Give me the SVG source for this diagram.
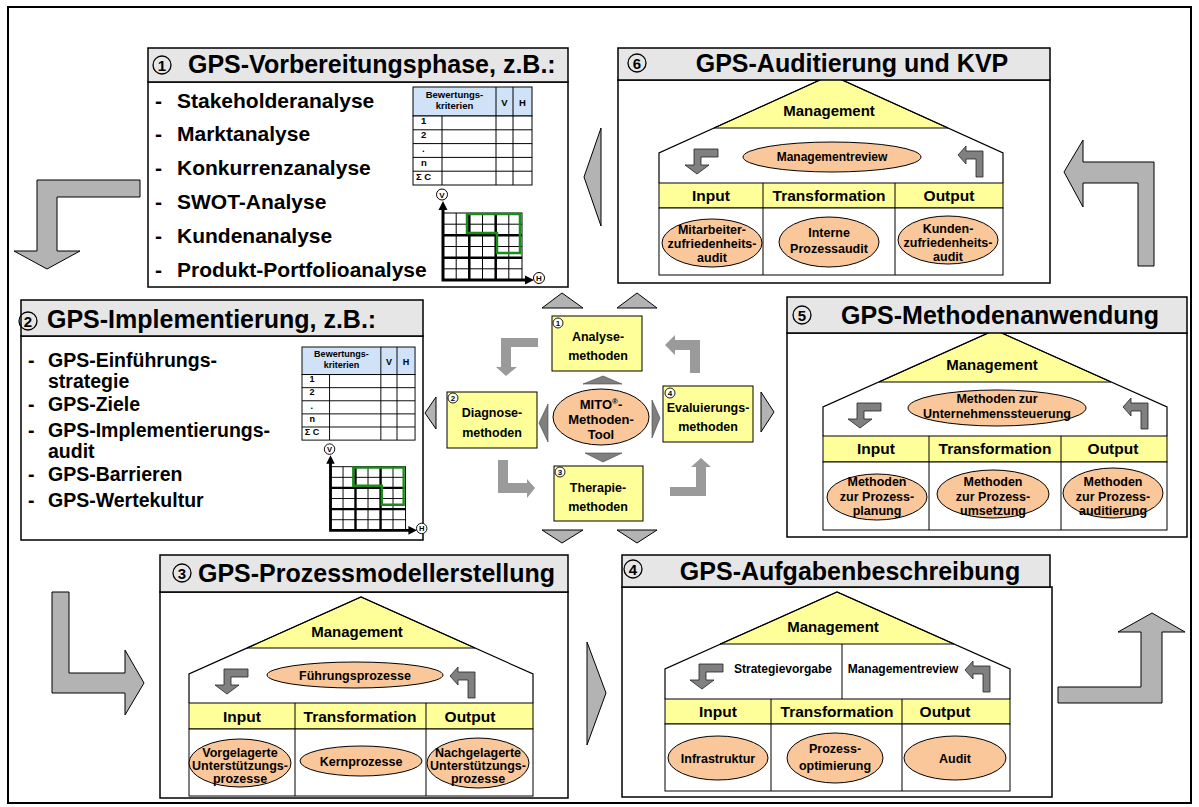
<svg xmlns="http://www.w3.org/2000/svg" width="1199" height="807" viewBox="0 0 1199 807">
<style>
.t{font-family:"Liberation Sans",Arial,sans-serif;font-weight:bold;fill:#000}
.ttl{font-size:25px}
.lst{font-size:21px}
.lst2{font-size:19.5px}
.hd{font-size:15.5px;text-anchor:middle}
.mg{font-size:15px;text-anchor:middle}
.e12{font-size:12px;text-anchor:middle}
.e13{font-size:12.5px;text-anchor:middle}
.c13{font-size:12.5px;text-anchor:middle}
.tb{font-size:9.5px}
.nd{font-size:15px;text-anchor:middle}
.ns{font-size:8px;text-anchor:middle}
.hdr{fill:#e6e6e6;stroke:#000;stroke-width:1.5}
.bdy{fill:#fff;stroke:#000;stroke-width:1.5}
.yel{fill:#ffff99;stroke:#000;stroke-width:1}
.ell{fill:#f9c79a;stroke:#000;stroke-width:1}
.wall{fill:none;stroke:#000;stroke-width:1.2}
.cell{fill:#fff;stroke:#000;stroke-width:1}
.ln{fill:none;stroke:#000;stroke-width:1}
.big{fill:#b3b3b3;stroke:#000;stroke-width:1}
.sma{fill:#808080;stroke:#222;stroke-width:0.8}
.mid{fill:#9a9a9a}
.dk{fill:#7f7f7f;stroke:#444;stroke-width:0.6}
.num{fill:none;stroke:#000;stroke-width:1.3}
.nums{fill:#fff;stroke:#000;stroke-width:0.9}
</style>
<defs>
<path id="aDL" d="M-3,-25 L21,-25 L21,-17 L4,-17 L4,-9 L12,-9 L0,0 L-12,-9 L-3,-9 Z"/>
<path id="aUL" d="M0,0 L8,-9 L8,-4 L25,-4 L25,22 L18,22 L18,4 L8,4 L8,9 Z"/>
<g id="crit">
<rect x="0" y="0" width="119" height="29" fill="#cfe2f7" stroke="#000" stroke-width="1"/>
<rect x="0" y="29" width="119" height="69" fill="#fff" stroke="#000" stroke-width="1"/>
<path class="ln" d="M83,0V98M100,0V98M29,29V98M0,42.8H119M0,56.6H119M0,70.4H119M0,84.2H119"/>
<text class="t tb" x="41.5" text-anchor="middle"><tspan x="41.5" y="10.5">Bewertungs-</tspan><tspan x="41.5" y="22">kriterien</tspan></text>
<text class="t tb" x="91.5" y="19" text-anchor="middle">V</text>
<text class="t tb" x="109.5" y="19" text-anchor="middle">H</text>
<text class="t tb" x="8" y="37">1</text>
<text class="t tb" x="8" y="51">2</text>
<text class="t tb" x="9" y="65">.</text>
<text class="t tb" x="8" y="79">n</text>
<text class="t tb" x="3" y="93">Σ C</text>
<rect x="30" y="126" width="79" height="67" fill="#fff" stroke="#000" stroke-width="1"/>
<path class="ln" d="M43.2,126V193M69.5,126V193M95.8,126V193M30,137.2H109M30,159.5H109M30,181.8H109"/>
<path fill="none" stroke="#000" stroke-width="2.5" d="M56.3,126V193M82.7,126V193M30,148.3H109M30,170.7H109"/>
<path d="M54,127H107V166H84V146H54Z" fill="none" stroke="#1a8c1a" stroke-width="2.5"/>
<path fill="none" stroke="#000" stroke-width="3" d="M30,194.5V121M28.5,193H114"/>
<path d="M30,114L25.5,123H34.5Z M121,193L112,188.5V197.5Z" fill="#000"/>
<circle cx="29" cy="107.5" r="5.5" fill="#fff" stroke="#000" stroke-width="1"/>
<text class="t" x="29" y="110.5" font-size="8" text-anchor="middle">V</text>
<circle cx="126" cy="191" r="5.5" fill="#fff" stroke="#000" stroke-width="1"/>
<text class="t" x="126" y="194" font-size="8" text-anchor="middle">H</text>
</g>
</defs>

<rect x="8" y="7" width="1183" height="796" fill="#fff" stroke="#000" stroke-width="2"/>

<g id="connectors">
<path class="big" d="M140,180 L37,180 L37,251 L14,251 L47,269 L80,251 L57,251 L57,197 L140,197 Z"/>
<path class="big" d="M1064,172 L1083,140 L1083,162 L1154,162 L1154,266 L1138,266 L1138,183 L1083,183 L1083,207 Z"/>
<path class="big" d="M1152,613 L1185,632 L1162,632 L1162,703 L1058,703 L1058,687 L1141,687 L1141,632 L1118,632 Z"/>
<path class="big" d="M52,592 L69,592 L69,673 L125,673 L125,650 L144,683 L125,715 L125,693 L52,693 Z"/>
<polygon class="big" points="601,128 584,177 601,226"/>
<polygon class="big" points="587,642 606,693 587,745"/>
<polygon class="big" points="542,308 562,293 583,308"/>
<polygon class="big" points="617,308 637,293 657,308"/>
<polygon class="big" points="542,530 562,543 583,530"/>
<polygon class="big" points="617,530 637,543 657,530"/>
<polygon class="big" points="425,413 436,397 436,429"/>
<polygon class="big" points="761,392 774,412 761,432"/>
<path class="mid" d="M538,338 L501,338 L501,367 L496,367 L506,376 L517,367 L511,367 L511,347 L538,347 Z"/>
<path class="mid" d="M665,345 L675,335 L675,340 L700,340 L700,373 L690,373 L690,350 L675,350 L675,355 Z"/>
<path class="mid" d="M498,460 L508,460 L508,483 L527,483 L527,479 L535,488 L527,498 L527,493 L498,493 Z"/>
<path class="mid" d="M670,487 L696,487 L696,467 L691,467 L701,458 L711,467 L706,467 L706,496 L670,496 Z"/>
<polygon class="dk" points="583,384 603,376 622,384"/>
<polygon class="dk" points="585,453 603,462 622,453"/>
<polygon class="dk" points="539,423 548,404 548,442"/>
<polygon class="dk" points="652,400 660,418 652,438"/>
</g>

<g id="p1">
<rect class="bdy" x="148" y="82" width="420" height="205"/>
<rect class="hdr" x="148" y="48" width="420" height="34"/>
<circle class="num" cx="162" cy="65" r="9"/>
<text class="t nd" x="162" y="70.5">1</text>
<text class="t ttl" x="188" y="73">GPS-Vorbereitungsphase, z.B.:</text>
<text class="t lst" x="155" y="108">-</text><text class="t lst" x="177" y="108">Stakeholderanalyse</text>
<text class="t lst" x="155" y="141">-</text><text class="t lst" x="177" y="141">Marktanalyse</text>
<text class="t lst" x="155" y="175">-</text><text class="t lst" x="177" y="175">Konkurrenzanalyse</text>
<text class="t lst" x="155" y="209">-</text><text class="t lst" x="177" y="209">SWOT-Analyse</text>
<text class="t lst" x="155" y="243">-</text><text class="t lst" x="177" y="243">Kundenanalyse</text>
<text class="t lst" x="155" y="277">-</text><text class="t lst" x="177" y="277">Produkt-Portfolioanalyse</text>
<use href="#crit" transform="translate(413,87)"/>
</g>

<g id="p2">
<rect class="bdy" x="21" y="336" width="402" height="204"/>
<rect class="hdr" x="21" y="300" width="402" height="36"/>
<circle class="num" cx="28" cy="321" r="9"/>
<text class="t nd" x="28" y="326.5">2</text>
<text class="t ttl" x="47" y="328">GPS-Implementierung, z.B.:</text>
<text class="t lst2" x="28" y="367">-</text><text class="t lst2"><tspan x="48" y="367">GPS-Einführungs-</tspan><tspan x="48" y="388">strategie</tspan></text>
<text class="t lst2" x="28" y="411">-</text><text class="t lst2" x="48" y="411">GPS-Ziele</text>
<text class="t lst2" x="28" y="437">-</text><text class="t lst2"><tspan x="48" y="437">GPS-Implementierungs-</tspan><tspan x="48" y="458">audit</tspan></text>
<text class="t lst2" x="28" y="481">-</text><text class="t lst2" x="48" y="481">GPS-Barrieren</text>
<text class="t lst2" x="28" y="507">-</text><text class="t lst2" x="48" y="507">GPS-Wertekultur</text>
<use href="#crit" transform="translate(302,347) scale(0.95)"/>
</g>

<g id="p6">
<rect class="bdy" x="618" y="80" width="432" height="203"/>
<polygon class="yel" points="831,75 714,128 948,128"/>
<polyline class="wall" points="659,183 659,153 831,75 1003,153 1003,183"/>
<rect class="yel" x="659" y="183" width="344" height="25"/>
<rect class="cell" x="659" y="208" width="344" height="67"/>
<path class="ln" d="M763,183V275M895,183V275"/>
<rect class="hdr" x="618" y="48" width="432" height="32"/>
<circle class="num" cx="637" cy="63" r="9"/>
<text class="t nd" x="637" y="68.5">6</text>
<text class="t ttl" x="852" y="72" text-anchor="middle">GPS-Auditierung und KVP</text>
<text class="t mg" x="829" y="116">Management</text>
<ellipse class="ell" cx="832" cy="157" rx="89" ry="15"/>
<text class="t e12" x="832" y="161">Managementreview</text>
<use href="#aDL" class="sma" x="697" y="174"/>
<use href="#aUL" class="sma" x="958" y="155"/>
<text class="t hd" x="711" y="201">Input</text>
<text class="t hd" x="829" y="201">Transformation</text>
<text class="t hd" x="949" y="201">Output</text>
<ellipse class="ell" cx="712" cy="243" rx="50" ry="24"/>
<text class="t e13"><tspan x="712" y="234">Mitarbeiter-</tspan><tspan x="712" y="248">zufriedenheits-</tspan><tspan x="712" y="262">audit</tspan></text>
<ellipse class="ell" cx="829" cy="242" rx="50" ry="25"/>
<text class="t e13"><tspan x="829" y="237">Interne</tspan><tspan x="829" y="253">Prozessaudit</tspan></text>
<ellipse class="ell" cx="948" cy="240" rx="50" ry="24"/>
<text class="t e13"><tspan x="948" y="233">Kunden-</tspan><tspan x="948" y="247">zufriedenheits-</tspan><tspan x="948" y="261">audit</tspan></text>
</g>

<g id="p5">
<rect class="bdy" x="787" y="333" width="400" height="204"/>
<polygon class="yel" points="995,330 879,382 1111,382"/>
<polyline class="wall" points="823,436 823,407 995,330 1167,407 1167,436"/>
<rect class="yel" x="823" y="436" width="344" height="26"/>
<rect class="cell" x="823" y="462" width="344" height="68"/>
<path class="ln" d="M929,436V530M1061,436V530"/>
<rect class="hdr" x="787" y="297" width="400" height="36"/>
<circle class="num" cx="802" cy="315" r="9"/>
<text class="t nd" x="802" y="320.5">5</text>
<text class="t ttl" x="1000" y="324" text-anchor="middle">GPS-Methodenanwendung</text>
<text class="t mg" x="992" y="370">Management</text>
<ellipse class="ell" cx="997" cy="408" rx="89" ry="18"/>
<text class="t e13"><tspan x="997" y="403">Methoden zur</tspan><tspan x="997" y="418">Unternehmenssteuerung</tspan></text>
<use href="#aDL" class="sma" x="860" y="428"/>
<use href="#aUL" class="sma" x="1123" y="407"/>
<text class="t hd" x="876" y="454">Input</text>
<text class="t hd" x="995" y="454">Transformation</text>
<text class="t hd" x="1113" y="454">Output</text>
<ellipse class="ell" cx="877" cy="497" rx="50" ry="23"/>
<text class="t e13"><tspan x="877" y="486">Methoden</tspan><tspan x="877" y="501">zur Prozess-</tspan><tspan x="877" y="515">planung</tspan></text>
<ellipse class="ell" cx="993" cy="494" rx="56" ry="24"/>
<text class="t e13"><tspan x="993" y="486">Methoden</tspan><tspan x="993" y="501">zur Prozess-</tspan><tspan x="993" y="515">umsetzung</tspan></text>
<ellipse class="ell" cx="1113" cy="493" rx="50" ry="25"/>
<text class="t e13"><tspan x="1113" y="486">Methoden</tspan><tspan x="1113" y="501">zur Prozess-</tspan><tspan x="1113" y="515">auditierung</tspan></text>
</g>

<g id="p3">
<rect class="bdy" x="160" y="592" width="408" height="206"/>
<polygon class="yel" points="361,597 247,648 475,648"/>
<polyline class="wall" points="189,703 189,674 361,597 533,674 533,703"/>
<rect class="yel" x="189" y="703" width="344" height="26"/>
<rect class="cell" x="189" y="729" width="344" height="67"/>
<path class="ln" d="M295,703V796M426,703V796"/>
<rect class="hdr" x="160" y="555" width="408" height="37"/>
<circle class="num" cx="182" cy="573" r="9"/>
<text class="t nd" x="182" y="578.5">3</text>
<text class="t ttl" x="198" y="582">GPS-Prozessmodellerstellung</text>
<text class="t mg" x="357" y="637">Management</text>
<ellipse class="ell" cx="355" cy="675" rx="88" ry="13"/>
<text class="t e13" x="355" y="679.5">Führungsprozesse</text>
<use href="#aDL" class="sma" x="227" y="694"/>
<use href="#aUL" class="sma" x="450" y="676"/>
<text class="t hd" x="242" y="722">Input</text>
<text class="t hd" x="360" y="722">Transformation</text>
<text class="t hd" x="470" y="722">Output</text>
<ellipse class="ell" cx="240" cy="763" rx="51" ry="24"/>
<text class="t e13"><tspan x="240" y="756.5">Vorgelagerte</tspan><tspan x="240" y="769.5">Unterstützungs-</tspan><tspan x="240" y="782.5">prozesse</tspan></text>
<ellipse class="ell" cx="361" cy="761" rx="61" ry="15"/>
<text class="t e13" x="361" y="765.5">Kernprozesse</text>
<ellipse class="ell" cx="478" cy="763" rx="51" ry="25"/>
<text class="t e13"><tspan x="478" y="756.5">Nachgelagerte</tspan><tspan x="478" y="769.5">Unterstützungs-</tspan><tspan x="478" y="782.5">prozesse</tspan></text>
</g>

<g id="p4">
<rect class="bdy" x="622" y="587" width="430" height="210"/>
<polygon class="yel" points="837,592 720,644 954,644"/>
<polyline class="wall" points="665,699 665,669 837,592 1010,669 1010,699"/>
<path class="ln" d="M842,644V699"/>
<rect class="yel" x="665" y="699" width="345" height="25"/>
<rect class="cell" x="665" y="724" width="345" height="67"/>
<path class="ln" d="M771,699V791M902,699V791"/>
<rect class="hdr" x="622" y="555" width="428" height="32"/>
<circle class="num" cx="633" cy="569" r="9"/>
<text class="t nd" x="633" y="574.5">4</text>
<text class="t ttl" x="850" y="580" text-anchor="middle">GPS-Aufgabenbeschreibung</text>
<text class="t mg" x="833" y="632">Management</text>
<text class="t e12" x="783" y="673">Strategievorgabe</text>
<text class="t e12" x="903" y="673">Managementreview</text>
<use href="#aDL" class="sma" x="702" y="689"/>
<use href="#aUL" class="sma" x="965" y="670"/>
<text class="t hd" x="718" y="717">Input</text>
<text class="t hd" x="837" y="717">Transformation</text>
<text class="t hd" x="945" y="717">Output</text>
<ellipse class="ell" cx="718" cy="758" rx="50" ry="22"/>
<text class="t e13" x="718" y="762.5">Infrastruktur</text>
<ellipse class="ell" cx="835" cy="758" rx="48" ry="25"/>
<text class="t e13"><tspan x="835" y="752.5">Prozess-</tspan><tspan x="835" y="769.5">optimierung</tspan></text>
<ellipse class="ell" cx="955" cy="758" rx="51" ry="22"/>
<text class="t e13" x="955" y="762.5">Audit</text>
</g>

<g id="analyse">
<rect class="yel" x="552" y="316" width="90" height="55"/>
<circle class="nums" cx="558" cy="323" r="5"/>
<text class="t ns" x="558" y="326">1</text>
<text class="t c13"><tspan x="598" y="341">Analyse-</tspan><tspan x="598" y="360">methoden</tspan></text>
</g>
<g id="diagnose">
<rect class="yel" x="447" y="392" width="90" height="56"/>
<circle class="nums" cx="453" cy="398" r="5"/>
<text class="t ns" x="453" y="401">2</text>
<text class="t c13"><tspan x="492" y="417">Diagnose-</tspan><tspan x="492" y="437">methoden</tspan></text>
</g>
<g id="therapie">
<rect class="yel" x="554" y="466" width="89" height="55"/>
<circle class="nums" cx="560" cy="472" r="5"/>
<text class="t ns" x="560" y="475">3</text>
<text class="t c13"><tspan x="598" y="492">Therapie-</tspan><tspan x="598" y="511">methoden</tspan></text>
</g>
<g id="evaluierung">
<rect class="yel" x="663" y="386" width="90" height="56"/>
<circle class="nums" cx="670" cy="393" r="5"/>
<text class="t ns" x="670" y="396">4</text>
<text class="t c13"><tspan x="708" y="412">Evaluierungs-</tspan><tspan x="708" y="431">methoden</tspan></text>
</g>
<g id="mito">
<ellipse class="ell" cx="601" cy="417" rx="48" ry="28"/>
<text class="t" font-size="13" text-anchor="middle"><tspan x="601" y="409">MITO</tspan><tspan font-size="8" dy="-5">®</tspan><tspan dy="5">-</tspan><tspan x="601" y="424">Methoden-</tspan><tspan x="601" y="439">Tool</tspan></text>
</g>
</svg>
